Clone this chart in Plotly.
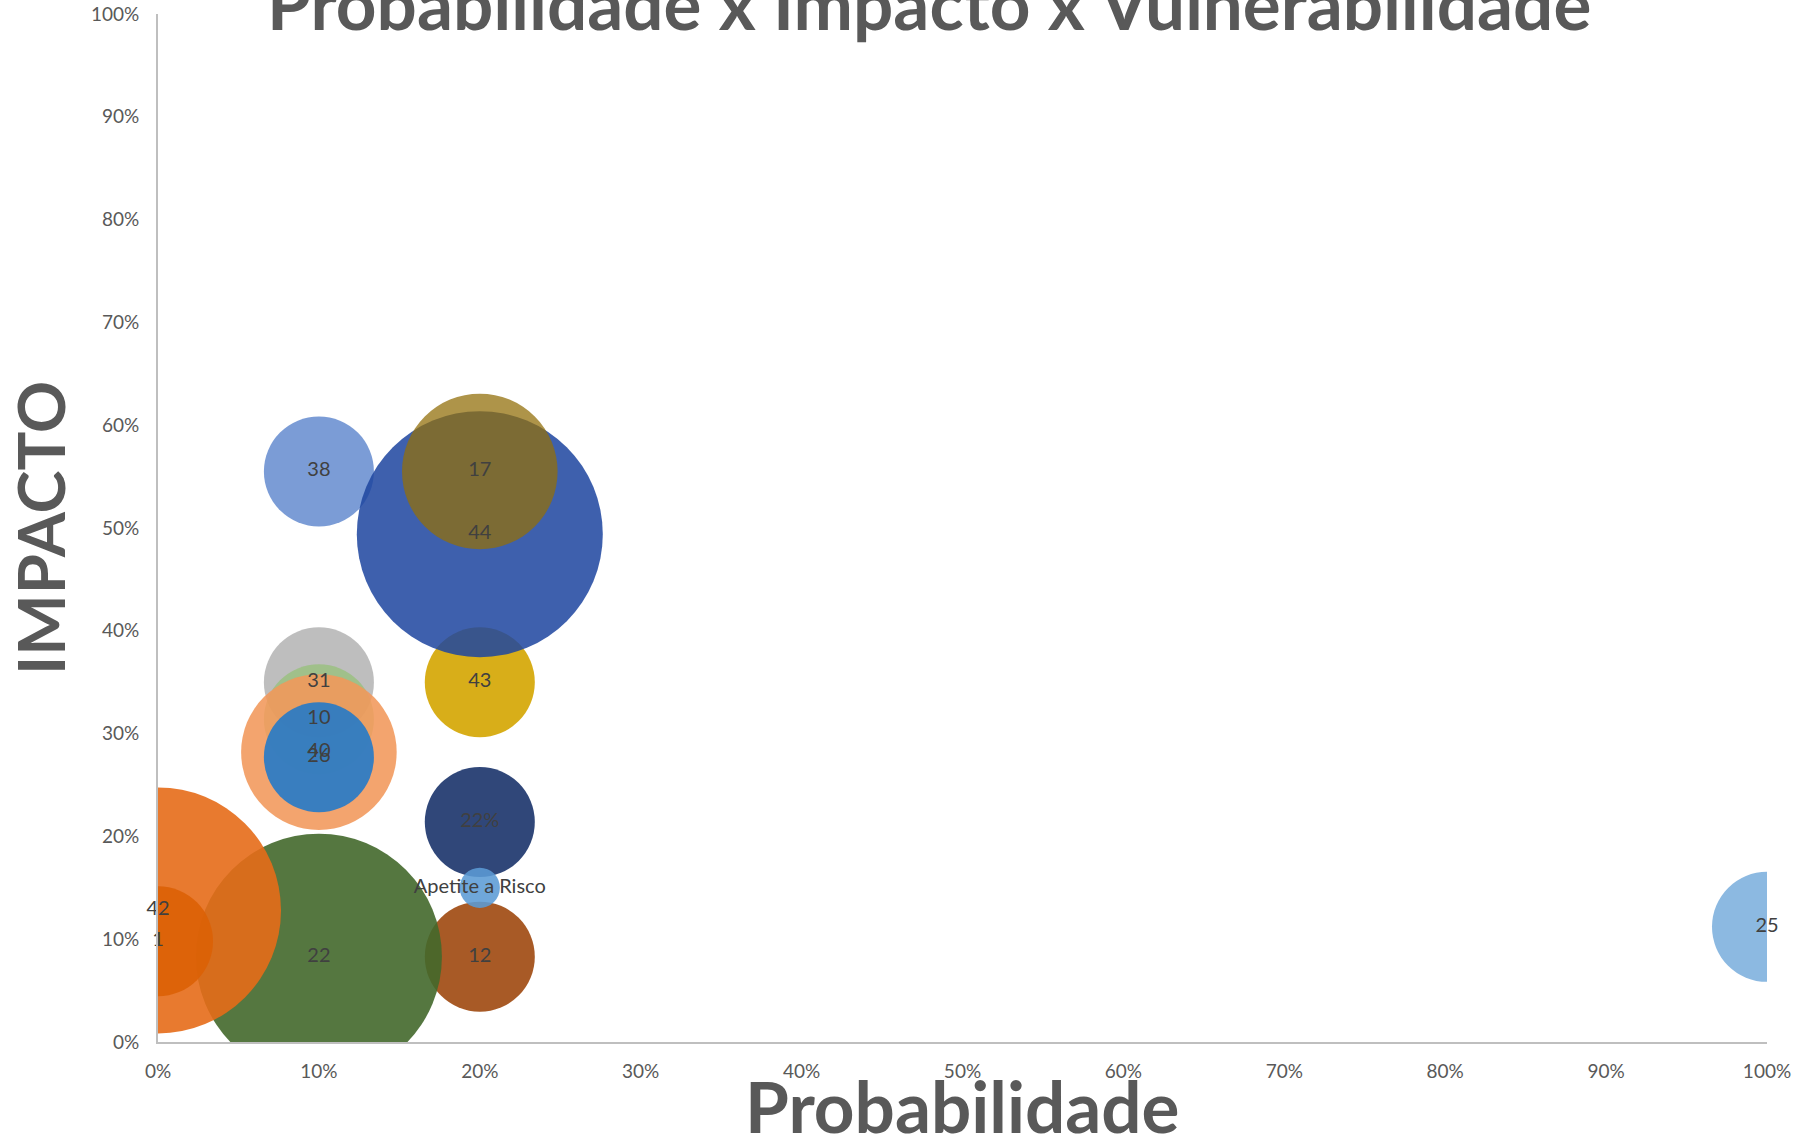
import plotly.graph_objects as go

# Risks: label, probability, impact, vulnerability (bubble size)
labels = ["12", "22", "42", "1", "31", "10", "40", "26", "38", "43", "44", "17", "22%", "Apetite a Risco", "25"]
probabilidade = [0.20, 0.10, 0.00, 0.00, 0.10, 0.10, 0.10, 0.10, 0.10, 0.20, 0.20, 0.20, 0.20, 0.20, 1.00]
impacto = [0.083, 0.083, 0.128, 0.098, 0.350, 0.314, 0.282, 0.277, 0.555, 0.350, 0.494, 0.555, 0.214, 0.150, 0.112]
vulnerabilidade = [3, 15, 15, 3, 3, 3, 6, 3, 3, 3, 15, 6, 3, 0.4, 3]

tick_vals = [i / 10 for i in range(11)]
tick_labels = ["0%", "10%", "20%", "30%", "40%", "50%", "60%", "70%", "80%", "90%", "100%"]

colors = [
    "rgba(158,72,14,0.90)",    # 12
    "rgba(67,104,43,0.90)",    # 22
    "rgba(230,108,24,0.90)",   # 42
    "rgba(220,96,6,0.90)",     # 1
    "rgba(165,165,165,0.72)",  # 31
    "rgba(140,193,104,0.60)",  # 10
    "rgba(241,151,90,0.88)",   # 40
    "rgba(37,122,200,0.90)",   # 26
    "rgba(105,142,208,0.88)",  # 38
    "rgba(212,165,0,0.90)",    # 43
    "rgba(30,70,160,0.86)",    # 44
    "rgba(146,110,10,0.74)",   # 17
    "rgba(30,55,110,0.92)",    # 22%
    "rgba(91,155,213,0.88)",   # Apetite a Risco
    "rgba(124,175,221,0.88)",  # 25
]

W, H = 1805, 1147
M_L, M_R, M_T, M_B = 158, 38, 14, 105
plot_w = W - M_L - M_R
plot_h = H - M_T - M_B

max_diameter = 246
sizeref = 2.0 * max(vulnerabilidade) / (max_diameter ** 2)

FONT = "Lato"
GREY = "#595959"

fig = go.Figure()

fig.add_trace(go.Scatter(
    x=probabilidade, y=impacto, mode="markers",
    marker=dict(size=vulnerabilidade, sizemode="area", sizeref=sizeref,
                color=colors, opacity=1, line=dict(width=0)),
    hoverinfo="skip", showlegend=False,
))

# data labels drawn above every bubble
fig.add_trace(go.Scatter(
    x=probabilidade, y=impacto, mode="text", text=labels,
    textposition="middle center",
    textfont=dict(family=FONT, size=20, color="#404040"),
    cliponaxis=False, hoverinfo="skip", showlegend=False,
))

axis_common = dict(
    range=[0, 1], tickvals=tick_vals, ticktext=tick_labels,
    showline=True, linecolor="#BFBFBF", linewidth=2,
    showgrid=False, zeroline=False, ticks="outside",
    tickcolor="rgba(0,0,0,0)", automargin=False,
    tickfont=dict(family=FONT, size=19, color=GREY),
    fixedrange=True,
)

fig.update_layout(
    width=W, height=H,
    margin=dict(l=M_L, r=M_R, t=M_T, b=M_B),
    paper_bgcolor="white", plot_bgcolor="white",
    xaxis=dict(**axis_common, ticklen=11),
    yaxis=dict(**axis_common, ticklen=13),
    annotations=[
        dict(text="Probabilidade x Impacto x Vulnerabilidade",
             xref="paper", yref="paper",
             x=(929 - M_L) / plot_w, y=(H - M_B - 2) / plot_h,
             xanchor="center", yanchor="middle", showarrow=False,
             font=dict(family=FONT, size=71, color=GREY, weight="bold")),
        dict(text="Probabilidade", xref="paper", yref="paper",
             x=0.5, y=-(1105 - (H - M_B)) / plot_h,
             xanchor="center", yanchor="middle", showarrow=False,
             font=dict(family=FONT, size=71, color=GREY, weight="bold")),
        dict(text="IMPACTO", xref="paper", yref="paper",
             x=(40 - M_L) / plot_w, y=0.5, textangle=-90,
             xanchor="center", yanchor="middle", showarrow=False,
             font=dict(family=FONT, size=65, color=GREY, weight="bold")),
    ],
)

fig.write_html("out.html")
